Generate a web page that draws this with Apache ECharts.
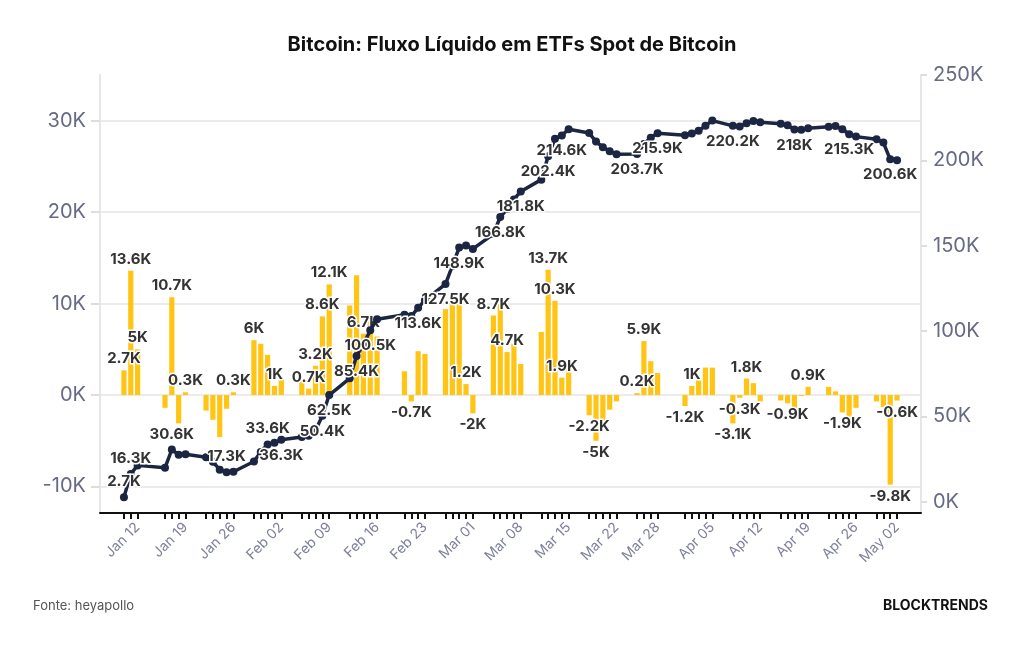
<!DOCTYPE html>
<html>
<head>
<meta charset="utf-8">
<script src="https://cdn.jsdelivr.net/npm/echarts@6/dist/echarts.min.js"></script>
<style>
html,body{margin:0;padding:0;background:#fff;}
#chart{width:1024px;height:645px;}
</style>
</head>
<body>
<div id="chart"></div>
<script>
// dias de negociação (2024, MM-DD)
var dias = [
	'01-10','01-11','01-12',
	'01-16','01-17','01-18','01-19',
	'01-22','01-23','01-24','01-25','01-26',
	'01-29','01-30','01-31','02-01','02-02',
	'02-05','02-06','02-07','02-08','02-09',
	'02-12','02-13','02-14','02-15','02-16',
	'02-20','02-21','02-22','02-23',
	'02-26','02-27','02-28','02-29','03-01',
	'03-04','03-05','03-06','03-07','03-08',
	'03-11','03-12','03-13','03-14','03-15',
	'03-18','03-19','03-20','03-21','03-22',
	'03-25','03-26','03-27','03-28',
	'04-01','04-02','04-03','04-04','04-05',
	'04-08','04-09','04-10','04-11','04-12',
	'04-15','04-16','04-17','04-18','04-19',
	'04-22','04-23','04-24','04-25','04-26',
	'04-29','04-30','05-01','05-02'
];
// fluxo líquido diário (mil BTC)
var fluxo = [
	2.7, 13.6, 5.0,
	-1.4, 10.7, -3.1, 0.3,
	-1.7, -2.7, -4.6, -1.5, 0.3,
	6.0, 5.6, 4.4, 1.0, 1.7,
	1.6, 0.7, 3.2, 8.6, 12.1,
	9.8, 13.1, 6.7, 8.4, 6.4,
	2.6, -0.7, 4.8, 4.5,
	9.4, 10.7, 10.7, 1.2, -2.0,
	8.7, 10.0, 4.7, 5.6, 3.4,
	6.9, 13.7, 10.3, 1.9, 3.6,
	-2.2, -5.0, -2.9, -1.6, -0.7,
	0.2, 5.9, 3.7, 2.4,
	-1.2, 1.0, 1.6, 3.0, 3.0,
	-3.1, -0.3, 1.8, 1.3, -0.7,
	-0.6, -0.9, -1.6, -0.1, 0.9,
	0.9, 0.4, -1.9, -2.6, -1.4,
	-0.7, -1.3, -9.8, -0.6
];
// fluxo acumulado (mil BTC)
var acumulado = [
	2.7, 16.3, 21.3,
	19.9, 30.6, 27.5, 27.8,
	26.1, 23.4, 18.8, 17.3, 17.6,
	23.6, 29.2, 33.6, 34.6, 36.3,
	37.9, 38.6, 41.8, 50.4, 62.5,
	72.3, 85.4, 92.1, 100.5, 106.9,
	109.5, 108.8, 113.6, 118.1,
	127.5, 138.2, 148.9, 150.1, 148.1,
	156.8, 166.8, 171.5, 177.1, 181.8,
	188.7, 202.4, 212.7, 214.6, 218.2,
	216.0, 211.0, 207.7, 205.4, 203.5,
	203.7, 209.6, 213.3, 215.9,
	214.7, 215.7, 217.3, 220.3, 223.3,
	220.2, 219.9, 221.7, 223.0, 222.3,
	221.5, 220.6, 218.0, 217.9, 218.8,
	219.7, 220.1, 218.2, 215.3, 213.9,
	212.4, 210.4, 200.6, 200.0
];
// dias com rótulo nas barras / na linha
var rotulosBarra = ['01-10','01-11','01-12','01-17','01-19','01-26','01-29','02-01','02-06','02-07','02-08','02-09',
	'02-14','02-21','02-29','03-01','03-04','03-06','03-12','03-13','03-14','03-18','03-19','03-25','03-26',
	'04-01','04-02','04-08','04-09','04-10','04-16','04-19','04-24','05-01','05-02'];
var rotulosLinha = ['01-10','01-11','01-17','01-25','01-31','02-02','02-08','02-09','02-13','02-15','02-22','02-26',
	'02-28','03-05','03-08','03-12','03-14','03-25','03-28','04-08','04-17','04-25','05-01'];
var rotulosLinhaTopo = ['01-10','01-11','01-17','01-25','01-31'];
// datas mostradas no eixo x
var rotulosData = ['01-12','01-19','01-26','02-02','02-09','02-16','02-23','03-01','03-08','03-15','03-22',
	'03-28','04-05','04-12','04-19','04-26','05-02'];
var meses = ['Jan','Feb','Mar','Apr','May'];

function fmtK(v) {
	return parseFloat(Number(v).toFixed(1)) + 'K';
}

// eixo de calendário (com fins de semana vazios)
var categorias = [];
var t = Date.UTC(2024, 0, 7);
var fim = Date.UTC(2024, 4, 5);
while (t <= fim) {
	var d = new Date(t);
	var mm = ('0' + (d.getUTCMonth() + 1)).slice(-2);
	var dd = ('0' + d.getUTCDate()).slice(-2);
	categorias.push(mm + '-' + dd);
	t += 86400000;
}

var dadosBarra = [];
var dadosLinha = [];
for (var i = 0; i < categorias.length; i++) {
	var k = dias.indexOf(categorias[i]);
	if (k < 0) {
		dadosBarra.push('-');
		dadosLinha.push('-');
		continue;
	}
	var b = { value: fluxo[k] };
	if (rotulosBarra.indexOf(dias[k]) >= 0) {
		b.label = { show: true, position: fluxo[k] < 0 ? 'bottom' : 'top' };
	}
	dadosBarra.push(b);
	var l = { value: acumulado[k] };
	if (rotulosLinha.indexOf(dias[k]) >= 0) {
		l.label = { show: true, position: rotulosLinhaTopo.indexOf(dias[k]) >= 0 ? 'top' : 'bottom' };
	}
	dadosLinha.push(l);
}

var estiloRotulo = {
	show: false,
	color: '#333333',
	fontFamily: 'Inter',
	fontWeight: 'bold',
	fontSize: 15,
	textBorderColor: '#ffffff',
	textBorderWidth: 3,
	distance: 4,
	formatter: function (p) { return fmtK(p.value); }
};

var myChart = echarts.init(document.getElementById('chart'));
var option = {
	backgroundColor: '#ffffff',
	animation: false,
	title: {
		text: 'Bitcoin: Fluxo Líquido em ETFs Spot de Bitcoin',
		left: 'center',
		top: 30,
		textStyle: { fontFamily: 'Inter', fontWeight: 'bold', fontSize: 20, color: '#111111' }
	},
	graphic: [
		{ type: 'text', left: 33, top: 600, style: { text: 'Fonte: heyapollo', fontFamily: 'Inter', fontSize: 13, fill: '#555555' } },
		{ type: 'text', right: 36, top: 599, style: { text: 'BLOCKTRENDS', fontFamily: 'Inter', fontWeight: 'bold', fontSize: 14, fill: '#111111' } }
	],
	grid: { left: 100, right: 103, top: 75, bottom: 132 },
	xAxis: {
		type: 'category',
		data: categorias,
		boundaryGap: true,
		axisLine: { onZero: false, lineStyle: { color: '#111111', width: 2 } },
		axisTick: {
			show: true,
			alignWithLabel: true,
			length: 6,
			lineStyle: { color: '#111111', width: 2 },
			interval: function (idx, val) { return dias.indexOf(val) >= 0; }
		},
		axisLabel: {
			rotate: 45,
			margin: 12,
			color: '#7d8099',
			fontFamily: 'Inter',
			fontSize: 14,
			interval: function (idx, val) { return rotulosData.indexOf(val) >= 0; },
			formatter: function (val) {
				return meses[parseInt(val.slice(0, 2), 10) - 1] + ' ' + val.slice(3);
			}
		},
		splitLine: { show: false }
	},
	yAxis: [{
		type: 'value',
		min: -12.9,
		max: 35,
		splitNumber: 5,
		axisLine: { show: true, lineStyle: { color: '#e6e6e6', width: 2 } },
		axisTick: { show: true, length: 9, lineStyle: { color: '#dddddd', width: 2 } },
		axisLabel: {
			showMinLabel: false,
			showMaxLabel: false,
			margin: 14,
			color: '#666a85',
			fontFamily: 'Inter',
			fontSize: 20,
			formatter: function (v) { return v + 'K'; }
		},
		splitLine: { show: true, showMinLine: false, showMaxLine: false, lineStyle: { color: '#ebebeb', width: 2 } }
	}, {
		type: 'value',
		min: -6.6,
		max: 250,
		splitNumber: 5,
		position: 'right',
		axisLine: { show: true, lineStyle: { color: '#e6e6e6', width: 2 } },
		axisTick: { show: true, length: 6, lineStyle: { color: '#dddddd', width: 2 } },
		axisLabel: {
			showMinLabel: false,
			margin: 12,
			color: '#666a85',
			fontFamily: 'Inter',
			fontSize: 20,
			formatter: function (v) { return v + 'K'; }
		},
		splitLine: { show: false }
	}],
	series: [{
		name: 'Fluxo diário',
		type: 'bar',
		yAxisIndex: 0,
		barWidth: '76%',
		itemStyle: { color: '#ffc414' },
		label: estiloRotulo,
		data: dadosBarra
	}, {
		name: 'Fluxo acumulado',
		type: 'line',
		yAxisIndex: 1,
		connectNulls: true,
		symbol: 'circle',
		symbolSize: 8,
		showAllSymbol: true,
		lineStyle: { color: '#1c2541', width: 3.5 },
		itemStyle: { color: '#1c2541' },
		label: estiloRotulo,
		data: dadosLinha
	}]
};
myChart.setOption(option);
</script>
</body>
</html>
